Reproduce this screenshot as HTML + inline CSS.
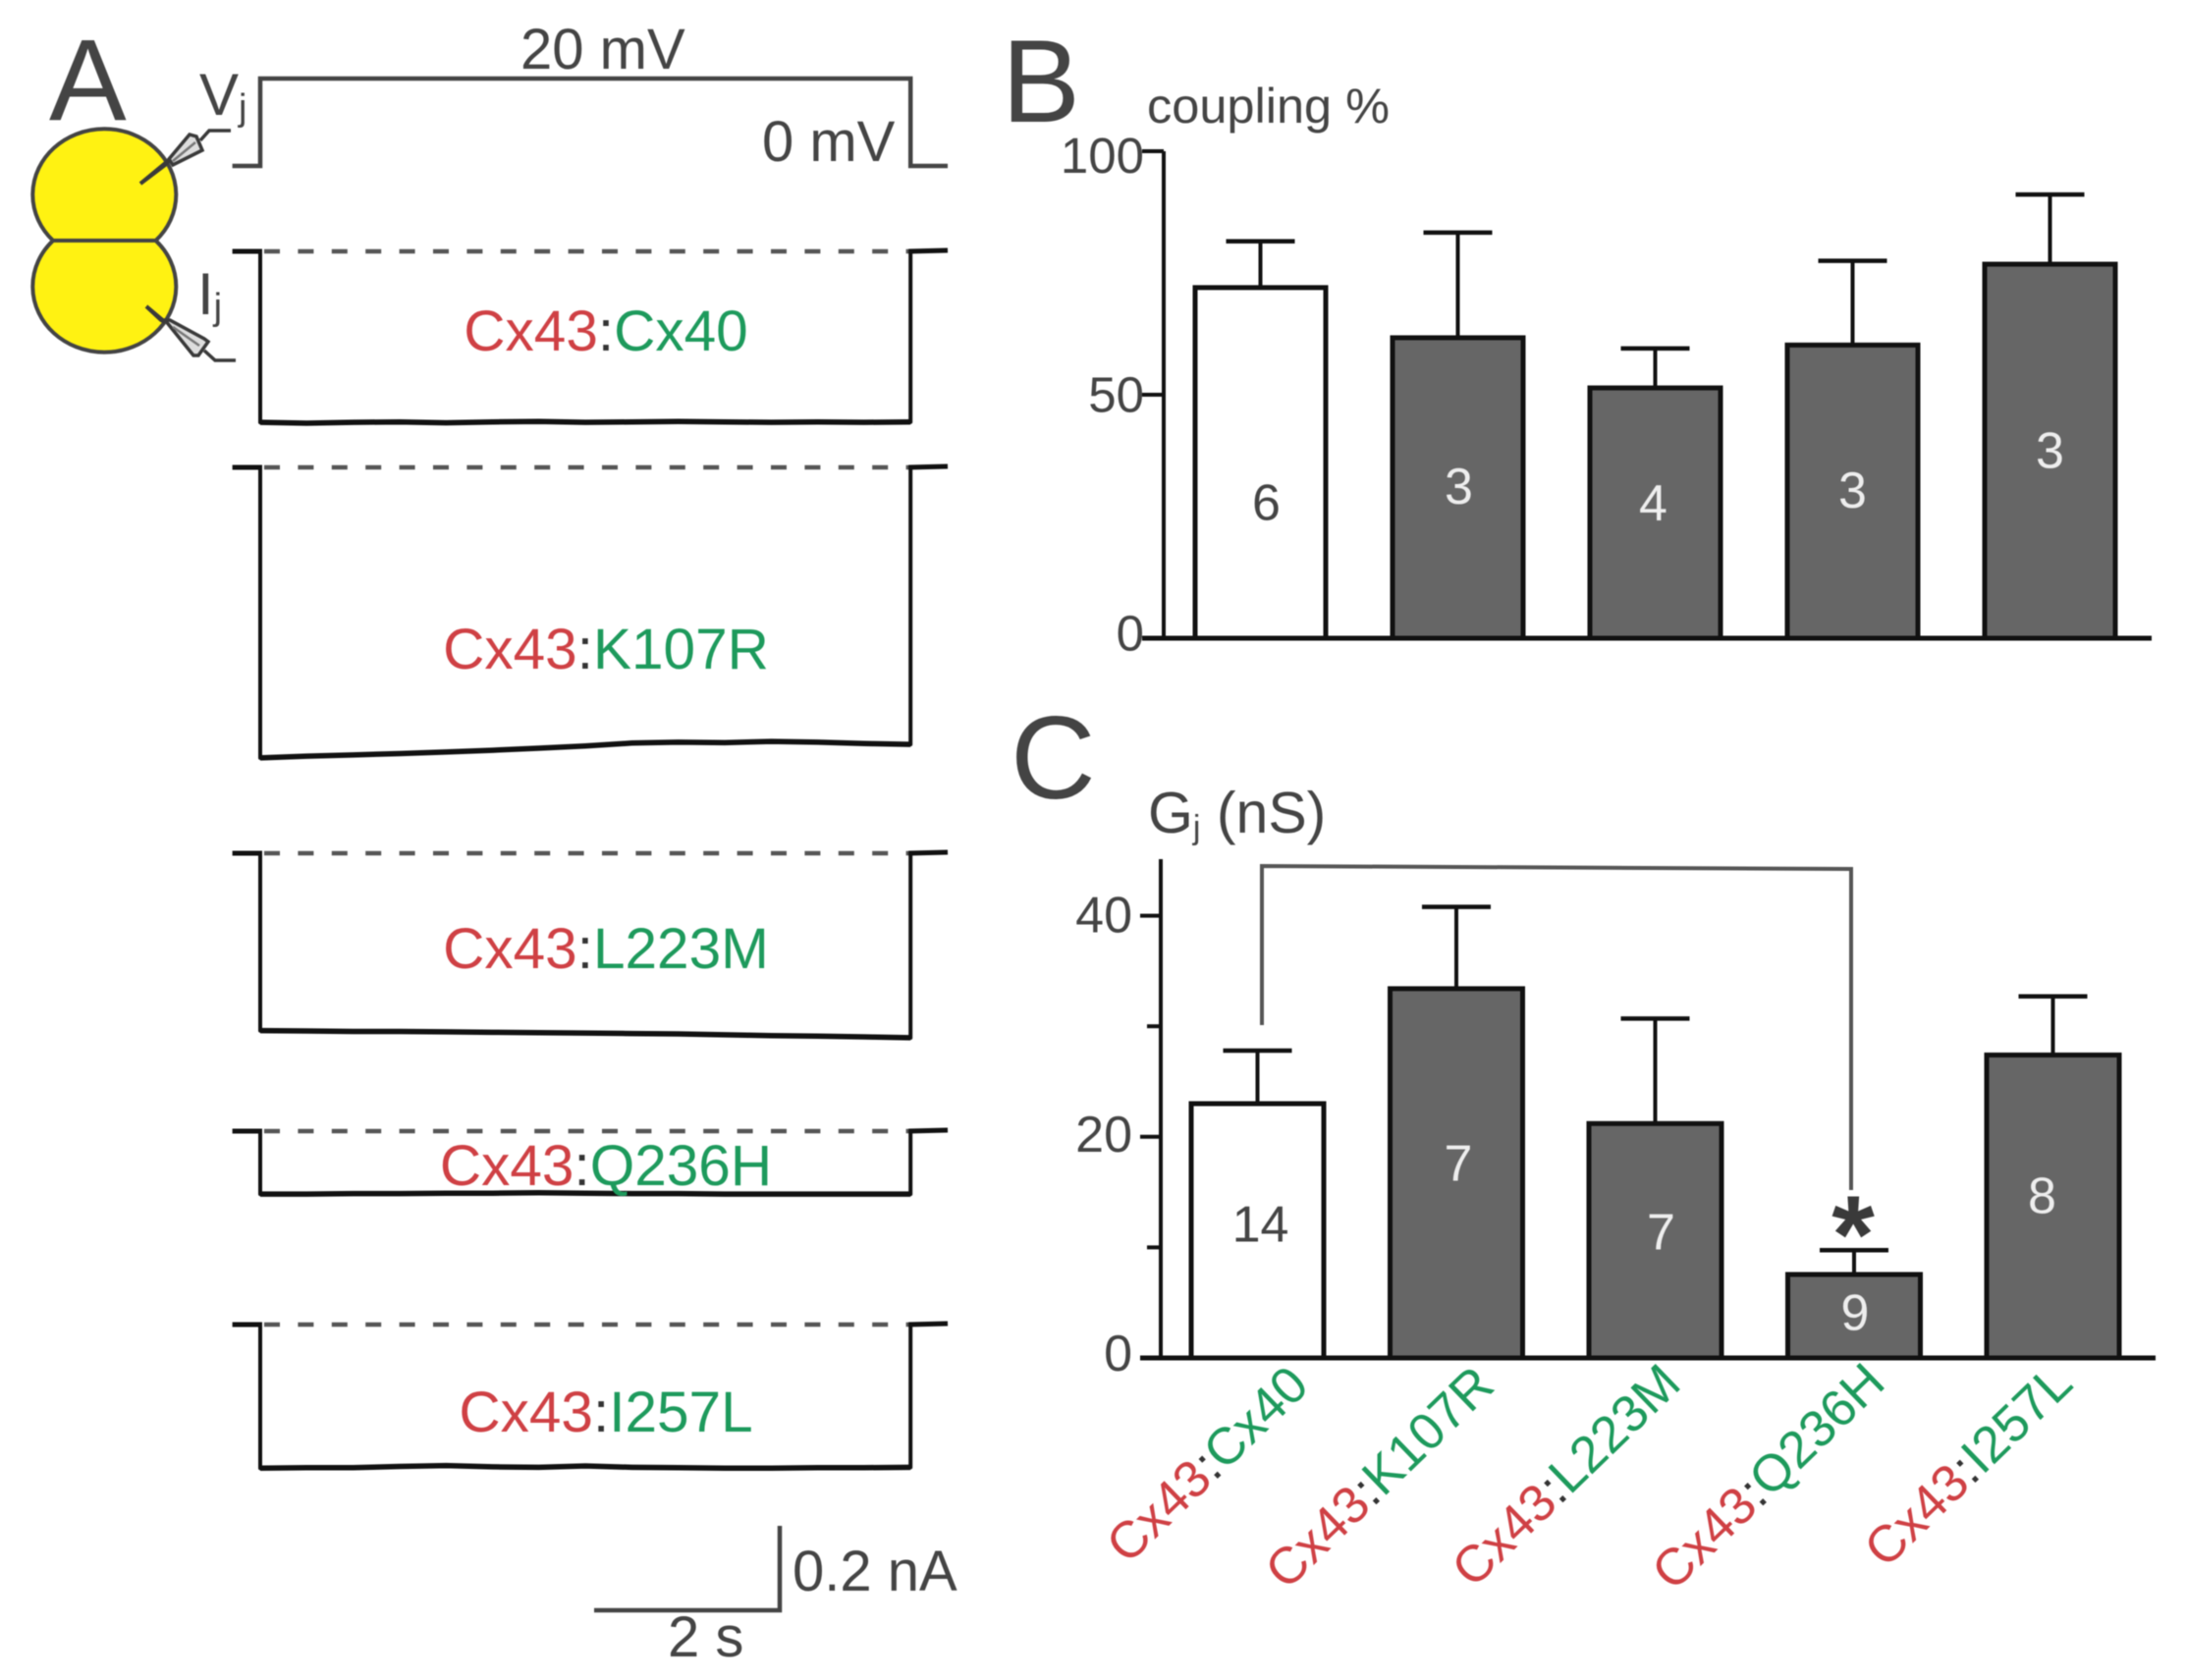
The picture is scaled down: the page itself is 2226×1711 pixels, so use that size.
<!DOCTYPE html>
<html lang="en">
<head>
<meta charset="utf-8">
<title>Cx43 heterotypic gap junction coupling</title>
<style>
html,body{margin:0;padding:0;background:#fff;}
svg{display:block;filter:blur(0.6px);}
text{font-family:"Liberation Sans",sans-serif;}
</style>
</head>
<body>
<svg id="figure" width="2226" height="1711" viewBox="0 0 2226 1711" xmlns="http://www.w3.org/2000/svg">
  <rect width="2226" height="1711" fill="#fff"/>

  <!-- Panel letters -->
  <text x="50" y="122" font-size="118" fill="#444">A</text>
  <text x="1020" y="124" font-size="120" fill="#444">B</text>
  <text x="1029" y="813" font-size="120" fill="#444">C</text>

  <!-- Cell pair schematic -->
  <g stroke="#444" stroke-width="4">
    <path d="M54 245 A73 67 0 1 1 158.6 245 Z" fill="#fff212"/>
    <path d="M54 245 A73 67 0 1 0 158.6 245 Z" fill="#fff212"/>
    <g fill="none" stroke="#3a3a3a" stroke-width="3.5">
      <path d="M143 187 L172 163 L168 168 Z" fill="#777" stroke-width="4"/>
      <path d="M172 162 L193 137 L200 139 L206 153 L176 168 Z" fill="#ddd"/>
      <path d="M176 164 L199 145" stroke="#777" stroke-width="2.5"/>
      <path d="M204 143 L213 133 L235 133" stroke-width="3.5"/>
    </g>
    <g fill="none" stroke="#3a3a3a" stroke-width="3.5">
      <path d="M149 312 L168 328 L164 326 Z" fill="#777" stroke-width="4"/>
      <path d="M168 326 L197 362 L202 362 L212 348 L208 345 L173 326 Z" fill="#ddd"/>
      <path d="M176 333 L203 352" stroke="#777" stroke-width="2.5"/>
      <path d="M208 357 L219 367 L240 367" stroke-width="3.5"/>
    </g>
  </g>

  <text x="203" y="117" font-size="60" fill="#444">V<tspan font-size="38" dy="5">j</tspan></text>
  <text x="201" y="320" font-size="60" fill="#444">I<tspan font-size="38" dy="5">j</tspan></text>
  <text x="530" y="70" font-size="58" fill="#444">20 mV</text>
  <text x="776" y="164" font-size="58" fill="#444">0 mV</text>

  <g id="traces"></g>

  <!-- Trace labels -->
  <g font-size="58.5" text-anchor="middle">
    <text x="617" y="357"><tspan fill="#cf4044">Cx43</tspan><tspan fill="#333">:</tspan><tspan fill="#1d9a5c">Cx40</tspan></text>
    <text x="617" y="681"><tspan fill="#cf4044">Cx43</tspan><tspan fill="#333">:</tspan><tspan fill="#1d9a5c">K107R</tspan></text>
    <text x="617" y="986"><tspan fill="#cf4044">Cx43</tspan><tspan fill="#333">:</tspan><tspan fill="#1d9a5c">L223M</tspan></text>
    <text x="617" y="1207"><tspan fill="#cf4044">Cx43</tspan><tspan fill="#333">:</tspan><tspan fill="#1d9a5c">Q236H</tspan></text>
    <text x="617" y="1458"><tspan fill="#cf4044">Cx43</tspan><tspan fill="#333">:</tspan><tspan fill="#1d9a5c">I257L</tspan></text>
  </g>

  <!-- Scale bar -->
  <path d="M605 1640 H794 V1554" fill="none" stroke="#444" stroke-width="4.5"/>
  <text x="807" y="1620" font-size="58" fill="#444">0.2 nA</text>
  <text x="680" y="1687" font-size="58" fill="#444">2 s</text>

  <g id="panel-b"></g>
  <g id="panel-c"></g>

  <text x="1168" y="125" font-size="50.5" fill="#444">coupling %</text>
  <text x="1169" y="848" font-size="59" fill="#444">G<tspan font-size="34" dy="6">j</tspan><tspan dy="-6"> (nS)</tspan></text>

  <!-- Significance bracket -->
  <path d="M1285 1044 V882 L1885 885 V1212" fill="none" stroke="#555" stroke-width="4"/>
  <text x="1887" y="1296" font-size="112" font-weight="bold" text-anchor="middle" fill="#3a3a3a">*</text>
</svg>

<script>
// ---------- Chart data ----------
const categories = ["Cx40", "K107R", "L223M", "Q236H", "I257L"];
const couplingMean = [72, 61.7, 51.4, 60.2, 76.8];
const couplingErrorTop = [81.5, 83.3, 59.5, 77.5, 91.1];
const couplingN = [6, 3, 4, 3, 3];
const couplingTicks = [0, 50, 100];

const conductanceMean = [23.0, 33.4, 21.2, 7.55, 27.4];
const conductanceErrorTop = [27.8, 40.8, 30.7, 9.75, 32.7];
const conductanceN = [14, 7, 7, 9, 8];
const conductanceMajorTicks = [0, 20, 40];
const conductanceMinorTicks = [10, 30];

// Voltage step (seconds, mV)
const stepTimes = [-0.3, 0, 0, 7, 7, 7.4];
const stepVolts = [0, 0, 20, 20, 0, 0];

// Current traces (seconds, nA)
const pulseTimes = [0, 0.5, 1, 1.5, 2, 2.5, 3, 3.5, 4, 4.5, 5, 5.5, 6, 6.5, 7];
const currentCx40 = [-0.405, -0.407, -0.405, -0.404, -0.406, -0.404, -0.403, -0.405, -0.404, -0.403, -0.404, -0.405, -0.404, -0.405, -0.404];
const currentK107R = [-0.688, -0.684, -0.681, -0.678, -0.674, -0.670, -0.665, -0.660, -0.653, -0.651, -0.652, -0.649, -0.651, -0.654, -0.656];
const currentL223M = [-0.420, -0.421, -0.422, -0.422, -0.423, -0.424, -0.425, -0.426, -0.427, -0.428, -0.430, -0.432, -0.433, -0.435, -0.437];
const currentQ236H = [-0.149, -0.149, -0.148, -0.148, -0.147, -0.147, -0.146, -0.147, -0.148, -0.148, -0.149, -0.149, -0.149, -0.149, -0.149];
const currentI257L = [-0.340, -0.339, -0.339, -0.336, -0.334, -0.337, -0.338, -0.335, -0.338, -0.339, -0.340, -0.340, -0.339, -0.339, -0.338];

// ---------- Helpers ----------
const NS = "http://www.w3.org/2000/svg";
function make(parent, tag, attrs, content) {
  const node = document.createElementNS(NS, tag);
  for (const key in attrs) node.setAttribute(key, attrs[key]);
  if (content !== undefined) node.textContent = content;
  parent.appendChild(node);
  return node;
}

// ---------- Panel A traces ----------
const tracesGroup = document.getElementById("traces");
const timeToX = t => 265 + 94.6 * t;
const PX_PER_NA = 430;
const PX_PER_MV = 4.45;

const stepPoints = stepTimes.map((t, i) => timeToX(t) + "," + (169 - stepVolts[i] * PX_PER_MV)).join(" ");
const stepLine = make(tracesGroup, "polyline", {points: stepPoints, fill: "none", stroke: "#444", "stroke-width": 4.5});



function drawTrace(baseY, current, name) {
  const dash = make(tracesGroup, "line", {x1: timeToX(0) + 4, x2: timeToX(7), y1: baseY, y2: baseY, stroke: "#555", "stroke-width": 4.5, "stroke-dasharray": "16 18.4"});
  
  
  const pts = [[timeToX(0), baseY]];
  pulseTimes.forEach((t, i) => pts.push([timeToX(t), baseY - current[i] * PX_PER_NA]));
  pts.push([timeToX(7), baseY]);
  const line = make(tracesGroup, "polyline", {points: pts.map(p => p.join(",")).join(" "), fill: "none", stroke: "#111", "stroke-width": 4, "stroke-linejoin": "round"});
  
  
  const plateau = make(tracesGroup, "polyline", {points: pts.slice(1, -1).map(p => p.join(",")).join(" "), fill: "none", stroke: "#111", "stroke-width": 5.5, "stroke-linejoin": "round"});
  
  
  const before = make(tracesGroup, "line", {x1: timeToX(-0.3), x2: timeToX(0) + 2, y1: baseY, y2: baseY, stroke: "#111", "stroke-width": 5});
  
  
  const after = make(tracesGroup, "line", {x1: timeToX(7) - 2, x2: timeToX(7.4), y1: baseY, y2: baseY - 1, stroke: "#111", "stroke-width": 5});
  
  
}
drawTrace(256, currentCx40, "trace-cx40");
drawTrace(476, currentK107R, "trace-k107r");
drawTrace(869, currentL223M, "trace-l223m");
drawTrace(1152, currentQ236H, "trace-q236h");
drawTrace(1349, currentI257L, "trace-i257l");

// ---------- Bar panels ----------
function drawBars(group, xOf, yOf, barWidth, means, tops, prefix) {
  means.forEach((m, i) => {
    const cx = xOf(i);
    const color = i === 0 ? "#fff" : "#666";
    const err = make(group, "line", {x1: cx, x2: cx, y1: yOf(m), y2: yOf(tops[i]), stroke: "#111", "stroke-width": 4});
    
    
    const cap = make(group, "line", {x1: cx - 35, x2: cx + 35, y1: yOf(tops[i]), y2: yOf(tops[i]), stroke: "#111", "stroke-width": 4.5});
    
    
    const bar = make(group, "rect", {x: cx - barWidth / 2, y: yOf(m), width: barWidth, height: yOf(0) - yOf(m), fill: color, stroke: "#111", "stroke-width": 5});
    
    
  });
}
function drawCount(group, x, centerY, value, light, prefix) {
  const label = make(group, "text", {x: x, y: centerY + 18.5, "font-size": 52, "text-anchor": "middle", fill: light ? "#eee" : "#444"}, String(value));
  
  
}
function drawBaseline(group, x1, x2, y, prefix) {
  const line = make(group, "line", {x1: x1, x2: x2, y1: y, y2: y, stroke: "#111", "stroke-width": 5});
  
  
}

// Panel B
const groupB = document.getElementById("panel-b");
const xB = i => 1283.5 + 201 * i;
const yB = v => 650 - 4.96 * v;
const axisB = make(groupB, "line", {x1: 1185, x2: 1185, y1: yB(100), y2: yB(0), stroke: "#111", "stroke-width": 4});


couplingTicks.forEach(v => {
  const tick = make(groupB, "line", {x1: 1163, x2: 1185, y1: yB(v), y2: yB(v), stroke: "#111", "stroke-width": 4});
  
  
  const label = make(groupB, "text", {x: 1165, y: yB(v) + 12.5 + 0.095 * v, "font-size": 51, "text-anchor": "end", fill: "#444"}, String(v));
  
  
});
drawBars(groupB, xB, yB, 133, couplingMean, couplingErrorTop, "coupling");
drawBaseline(groupB, 1163, 2191, yB(0), "coupling");
drawCount(groupB, xB(0) + 6, 511, couplingN[0], false, "coupling");
drawCount(groupB, xB(1) + 1, 494.5, couplingN[1], true, "coupling");
drawCount(groupB, xB(2) - 2, 511.5, couplingN[2], true, "coupling");
drawCount(groupB, xB(3), 498.5, couplingN[3], true, "coupling");
drawCount(groupB, xB(4), 458, couplingN[4], true, "coupling");

// Panel C
const groupC = document.getElementById("panel-c");
const xC = i => 1280.5 + 202.5 * i;
const yC = v => 1383 - 11.26 * v;
const axisC = make(groupC, "line", {x1: 1182, x2: 1182, y1: 875, y2: yC(0), stroke: "#111", "stroke-width": 4});


conductanceMajorTicks.forEach(v => {
  const tick = make(groupC, "line", {x1: 1161, x2: 1182, y1: yC(v), y2: yC(v), stroke: "#111", "stroke-width": 4});
  
  
  const label = make(groupC, "text", {x: 1153, y: yC(v) + 13 + 0.1 * v, "font-size": 52, "text-anchor": "end", fill: "#444"}, String(v));
  
  
});
conductanceMinorTicks.forEach(v => {
  const tick = make(groupC, "line", {x1: 1168, x2: 1182, y1: yC(v), y2: yC(v), stroke: "#111", "stroke-width": 4});
  
  
});
drawBars(groupC, xC, yC, 135, conductanceMean, conductanceErrorTop, "conductance");
drawBaseline(groupC, 1161, 2195, yC(0), "conductance");
drawCount(groupC, xC(0) + 3, 1246, conductanceN[0], false, "conductance");
drawCount(groupC, xC(1) + 2, 1184, conductanceN[1], true, "conductance");
drawCount(groupC, xC(2) + 6, 1254, conductanceN[2], true, "conductance");
drawCount(groupC, xC(3) + 1, 1336, conductanceN[3], true, "conductance");
drawCount(groupC, xC(4) - 11, 1217, conductanceN[4], true, "conductance");

// Rotated category labels
function drawCategory(endX, endY, name) {
  const label = make(groupC, "text", {transform: "translate(" + endX + " " + endY + ") rotate(-44)", "font-size": 52.5, "text-anchor": "end"});
  
  
  make(label, "tspan", {fill: "#cf4044"}, "Cx43");
  make(label, "tspan", {fill: "#333"}, ":");
  make(label, "tspan", {fill: "#1d9a5c"}, name);
}
drawCategory(1335, 1414, categories[0]);
drawCategory(1524, 1414, categories[1]);
drawCategory(1714, 1412, categories[2]);
drawCategory(1922, 1411, categories[3]);
drawCategory(2113, 1412, categories[4]);
</script>
</body>
</html>
